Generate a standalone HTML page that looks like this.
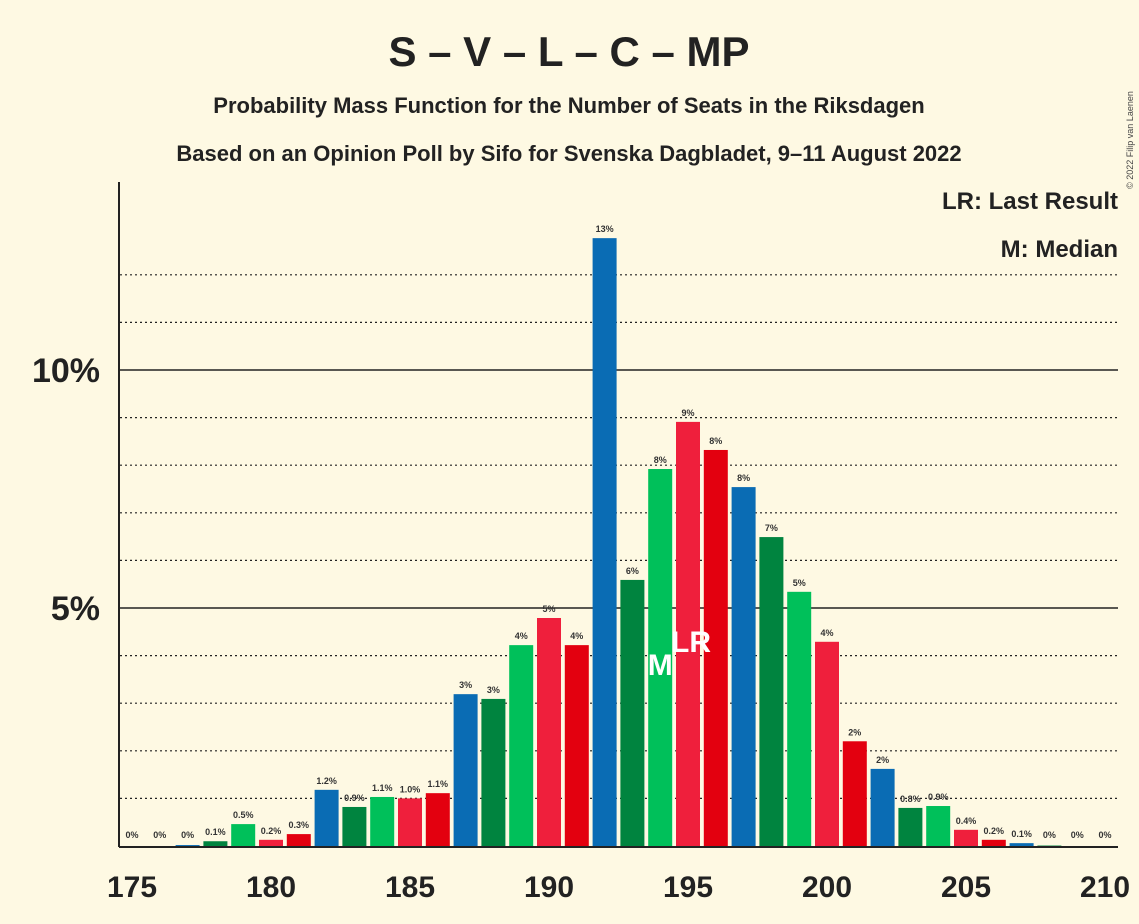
<!DOCTYPE html>
<html><head><meta charset="utf-8"><style>
body{margin:0;background:#fef9e3;}
svg{display:block;font-family:"Liberation Sans",sans-serif;}
</style></head><body>
<svg width="1139" height="924">
<rect width="1139" height="924" fill="#fef9e3"/>
<text x="569" y="66" text-anchor="middle" font-size="42" font-weight="bold" fill="#222">S – V – L – C – MP</text>
<text x="569" y="113" text-anchor="middle" font-size="22" font-weight="bold" fill="#222">Probability Mass Function for the Number of Seats in the Riksdagen</text>
<text x="569" y="161" text-anchor="middle" font-size="22" font-weight="bold" fill="#222">Based on an Opinion Poll by Sifo for Svenska Dagbladet, 9–11 August 2022</text>
<text x="1133" y="140" font-size="9" fill="#444" transform="rotate(-90 1133 140)" text-anchor="middle">© 2022 Filip van Laenen</text>
<text x="1118" y="209" text-anchor="end" font-size="24" font-weight="bold" fill="#222">LR: Last Result</text>
<text x="1118" y="257" text-anchor="end" font-size="24" font-weight="bold" fill="#222">M: Median</text>
<g id="grid"></g><g id="bars"></g><g id="axes"></g>
</svg>
<script>
const seats=[175,176,177,178,179,180,181,182,183,184,185,186,187,188,189,190,191,192,193,194,195,196,197,198,199,200,201,202,203,204,205,206,207,208,209,210];
const values=[0,0,0.02,0.1,0.46,0.13,0.25,1.18,0.82,1.03,1.0,1.11,3.19,3.09,4.22,4.79,4.22,12.77,5.59,7.92,8.91,8.32,7.54,6.49,5.34,4.29,2.2,1.62,0.8,0.84,0.34,0.13,0.06,0.01,0,0];
const labels=["0%","0%","0%","0.1%","0.5%","0.2%","0.3%","1.2%","0.9%","1.1%","1.0%","1.1%","3%","3%","4%","5%","4%","13%","6%","8%","9%","8%","8%","7%","5%","4%","2%","2%","0.8%","0.9%","0.4%","0.2%","0.1%","0%","0%","0%"];
const xTicks=[175,180,185,190,195,200,205,210];
const yTicks=[5,10];
const median=194, lastResult=195;
const colors=["#0a6cb4","#00843f","#00c05a","#ef1f3c","#e3000f"];
const NS="http://www.w3.org/2000/svg";
const x=s=>132+(s-175)*(1105-132)/35;
const y=v=>846-v*47.6;
function mk(t,a,p){const e=document.createElementNS(NS,t);for(const k in a)e.setAttribute(k,a[k]);p.appendChild(e);return e;}
const g=document.getElementById('grid'),b=document.getElementById('bars'),ax=document.getElementById('axes');
for(let i=1;i<=12;i++){if(i%5==0)continue;const l=mk('line',{x1:120,x2:1118,y1:y(i),y2:y(i),stroke:'#222','stroke-dasharray':'2,3','stroke-width':1.2},g);

}
yTicks.forEach(v=>{const l=mk('line',{x1:120,x2:1118,y1:y(v),y2:y(v),stroke:'#222','stroke-width':1.6},g);


const t=mk('text',{x:100,y:y(v)+12,'text-anchor':'end','font-size':34,'font-weight':'bold',fill:'#222'},ax);t.textContent=v+'%';

});
seats.forEach((s,i)=>{const v=values[i];const c=colors[((s-177)%5+5)%5];
const r=mk('rect',{x:x(s)-12,y:y(v),width:24,height:Math.max(0,846-y(v)),fill:c},b);


const t=mk('text',{x:x(s),y:Math.min(y(v)-6,838),'text-anchor':'middle','font-size':9,'font-weight':'bold',fill:'#333'},b);t.textContent=labels[i];

});
[[median,'M',675],[lastResult,'LR',652]].forEach(([s,txt,yy])=>{const t=mk('text',{x:x(s)+(txt=='M'?0:3),y:yy,'text-anchor':'middle','font-size':30,'font-weight':'bold',fill:'#fff'},b);t.textContent=txt;

});
const ya=mk('line',{x1:119,x2:119,y1:182,y2:847,stroke:'#222','stroke-width':2},ax);


const xa=mk('line',{x1:119,x2:1118,y1:847,y2:847,stroke:'#222','stroke-width':2},ax);


xTicks.forEach(s=>{const t=mk('text',{x:x(s),y:897,'text-anchor':'middle','font-size':30,'font-weight':'bold',fill:'#222'},ax);t.textContent=s;

});
</script>
</body></html>
